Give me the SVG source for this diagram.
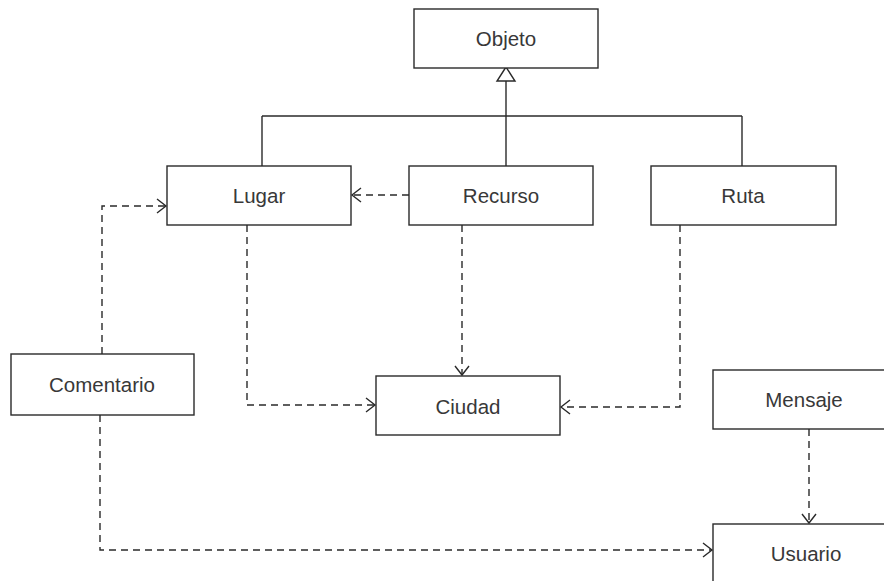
<svg xmlns="http://www.w3.org/2000/svg" width="884" height="581" viewBox="0 0 884 581">
  <style>
    .box { fill: #ffffff; stroke: #2a2a2a; stroke-width: 1.4; }
    .label { font-family: "Liberation Sans", Arial, sans-serif; font-size: 20.5px; fill: #383838; text-anchor: middle; dominant-baseline: central; }
    .solid { fill: none; stroke: #2a2a2a; stroke-width: 1.4; }
    .dep { fill: none; stroke: #2a2a2a; stroke-width: 1.4; stroke-dasharray: 7 5; marker-end: url(#open); }
  </style>
  <defs>
    <marker id="open" markerUnits="userSpaceOnUse" markerWidth="14" markerHeight="18" viewBox="-11 -8 14 16" refX="0" refY="0" orient="auto">
      <path d="M -9 -7 L 0 0 L -9 7" fill="none" stroke="#2a2a2a" stroke-width="1.4"/>
    </marker>
  </defs>
  <rect width="884" height="581" fill="#ffffff"/>

  <!-- connectors -->
  <g id="connectors">
    <!-- generalisation to Objeto -->
    <line class="solid" x1="262" y1="166" x2="262" y2="116"/>
    <line class="solid" x1="742" y1="166" x2="742" y2="116"/>
    <line class="solid" x1="262" y1="116" x2="742" y2="116"/>
    <line class="solid" x1="506" y1="166" x2="506" y2="81"/>
    <polygon points="506,67 497,81 515,81" fill="#ffffff" stroke="#2a2a2a" stroke-width="1.4"/>
    <!-- dependencies -->
    <path class="dep" d="M 409 195 L 352 195"/>
    <path class="dep" d="M 102 354 L 102 206 L 166 206"/>
    <path class="dep" d="M 247 225 L 247 405 L 375 405"/>
    <path class="dep" d="M 462 225 L 462 375"/>
    <path class="dep" d="M 680 225 L 680 407 L 561 407"/>
    <path class="dep" d="M 809 429 L 809 523"/>
    <path class="dep" d="M 100 415 L 100 550 L 712 550"/>
  </g>

  <g id="objeto">
    <rect class="box" x="414" y="9" width="184" height="59"/>
    <text class="label" x="506" y="38">Objeto</text>
  </g>
  <g id="lugar">
    <rect class="box" x="167" y="166" width="184" height="59"/>
    <text class="label" x="259" y="195">Lugar</text>
  </g>
  <g id="recurso">
    <rect class="box" x="409" y="166" width="184" height="59"/>
    <text class="label" x="501" y="195">Recurso</text>
  </g>
  <g id="ruta">
    <rect class="box" x="651" y="166" width="185" height="59"/>
    <text class="label" x="743" y="195">Ruta</text>
  </g>
  <g id="comentario">
    <rect class="box" x="11" y="354" width="183" height="61"/>
    <text class="label" x="102" y="384">Comentario</text>
  </g>
  <g id="ciudad">
    <rect class="box" x="376" y="376" width="184" height="59"/>
    <text class="label" x="468" y="406">Ciudad</text>
  </g>
  <g id="mensaje">
    <rect class="box" x="713" y="370" width="190" height="59"/>
    <text class="label" x="804" y="399">Mensaje</text>
  </g>
  <g id="usuario">
    <rect class="box" x="713" y="524" width="190" height="80"/>
    <text class="label" x="806" y="553">Usuario</text>
  </g>
</svg>
